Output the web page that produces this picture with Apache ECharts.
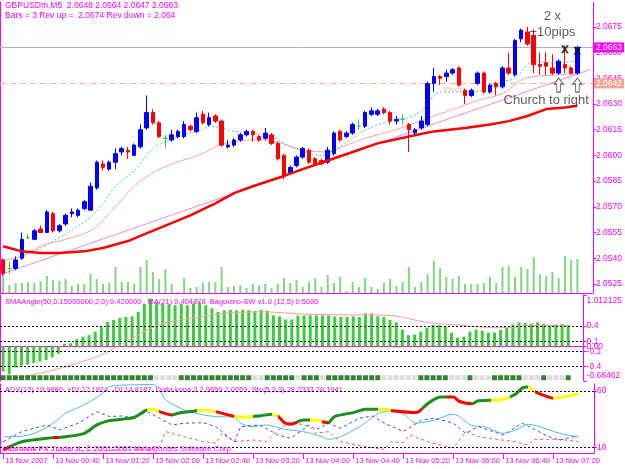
<!DOCTYPE html>
<html><head><meta charset="utf-8">
<script src="https://cdn.jsdelivr.net/npm/echarts@6/dist/echarts.min.js"></script>
<style>html,body{margin:0;padding:0;background:#fff}#c{width:625px;height:469px}</style>
</head><body><div id="c"></div>
<script>
// ---------- DATA ----------
const xTickLabels = ['13 Nov 2007','13 Nov 00:40','13 Nov 01:20','13 Nov 02:00','13 Nov 02:40','13 Nov 03:20','13 Nov 04:00','13 Nov 04:40','13 Nov 05:20','13 Nov 06:00','13 Nov 06:40','13 Nov 07:20'];
const slotCount = 95; // 93 bars + chart shift
const categories = [];
for (let i = 0; i < slotCount; i++) { const m = i * 5; categories.push('13 Nov ' + String(Math.floor(m / 60)).padStart(2, '0') + ':' + String(m % 60).padStart(2, '0')); }

const opens  = [2.0539,2.0534,2.0534,2.0540,2.0552,2.0551,2.0557,2.0555,2.0566,2.0556,2.0560,2.0566,2.0565,2.0569,2.0568,2.0581,2.0595,2.0592,2.0596,2.0602,2.0603,2.0600,2.0605,2.0616,2.0625,2.0619,2.0610,2.0609,2.0611,2.0611,2.0617,2.0614,2.0624,2.0618,2.0623,2.0620,2.0605,2.0606,2.0609,2.0612,2.0614,2.0611,2.0610,2.0612,2.0607,2.0600,2.0590,2.0594,2.0599,2.0603,2.0598,2.0597,2.0596,2.0601,2.0614,2.0611,2.0613,2.0617,2.0617,2.0624,2.0624,2.0627,2.0625,2.0620,2.0621,2.0618,2.0613,2.0616,2.0618,2.0642,2.0646,2.0646,2.0648,2.0651,2.0638,2.0635,2.0642,2.0648,2.0637,2.0642,2.0640,2.0651,2.0647,2.0668,2.0672,2.0670,2.0653,2.0654,2.0651,2.0648,2.0653,2.0651,2.0648];
const highs  = [2.0540,2.0538,2.0541,2.0555,2.0554,2.0557,2.0559,2.0568,2.0567,2.0560,2.0566,2.0569,2.0569,2.0574,2.0584,2.0597,2.0597,2.0597,2.0604,2.0605,2.0605,2.0607,2.0618,2.0635,2.0627,2.0620,2.0612,2.0615,2.0615,2.0620,2.0618,2.0625,2.0626,2.0625,2.0624,2.0621,2.0609,2.0610,2.0613,2.0615,2.0615,2.0612,2.0616,2.0613,2.0608,2.0601,2.0594,2.0600,2.0605,2.0604,2.0599,2.0598,2.0605,2.0614,2.0615,2.0614,2.0619,2.0621,2.0626,2.0628,2.0627,2.0628,2.0626,2.0623,2.0624,2.0619,2.0616,2.0623,2.0643,2.0651,2.0647,2.0650,2.0651,2.0652,2.0639,2.0639,2.0649,2.0649,2.0642,2.0643,2.0652,2.0660,2.0668,2.0674,2.0675,2.0673,2.0660,2.0660,2.0659,2.0656,2.0664,2.0652,2.0664];
const lows   = [2.0530,2.0531,2.0533,2.0539,2.0551,2.0551,2.0555,2.0555,2.0555,2.0555,2.0559,2.0564,2.0564,2.0568,2.0568,2.0580,2.0591,2.0591,2.0592,2.0600,2.0598,2.0600,2.0604,2.0615,2.0618,2.0610,2.0604,2.0608,2.0610,2.0610,2.0614,2.0613,2.0618,2.0617,2.0619,2.0605,2.0604,2.0605,2.0608,2.0611,2.0608,2.0608,2.0609,2.0606,2.0597,2.0586,2.0589,2.0593,2.0598,2.0595,2.0594,2.0594,2.0595,2.0600,2.0608,2.0610,2.0612,2.0615,2.0616,2.0623,2.0623,2.0624,2.0618,2.0618,2.0618,2.0602,2.0612,2.0615,2.0617,2.0637,2.0641,2.0643,2.0647,2.0640,2.0630,2.0634,2.0641,2.0636,2.0636,2.0635,2.0639,2.0647,2.0646,2.0666,2.0664,2.0648,2.0647,2.0647,2.0647,2.0647,2.0648,2.0647,2.0647];
const closes = [2.0531,2.0534,2.0539,2.0551,2.0552,2.0556,2.0555,2.0567,2.0556,2.0559,2.0565,2.0567,2.0568,2.0573,2.0582,2.0596,2.0593,2.0596,2.0601,2.0604,2.0602,2.0606,2.0615,2.0625,2.0619,2.0611,2.0610,2.0612,2.0614,2.0618,2.0615,2.0622,2.0619,2.0622,2.0620,2.0606,2.0606,2.0609,2.0612,2.0614,2.0612,2.0609,2.0613,2.0607,2.0598,2.0588,2.0593,2.0599,2.0604,2.0596,2.0595,2.0595,2.0603,2.0613,2.0609,2.0613,2.0618,2.0617,2.0625,2.0626,2.0626,2.0625,2.0620,2.0621,2.0621,2.0615,2.0615,2.0620,2.0642,2.0646,2.0645,2.0648,2.0650,2.0641,2.0635,2.0638,2.0648,2.0637,2.0641,2.0640,2.0651,2.0648,2.0667,2.0673,2.0665,2.0653,2.0652,2.0652,2.0648,2.0655,2.0651,2.0648,2.0663];
const volumes = [20,8,10,10,11,10,12,17,13,12,14,7,9,9,19,14,9,10,26,11,11,9,26,33,21,14,24,9,1,15,5,6,10,11,11,26,6,7,8,5,9,8,9,5,9,15,10,13,6,11,15,6,18,10,16,2,11,6,15,6,4,10,14,7,11,26,6,11,19,32,25,16,14,17,9,9,9,10,16,10,26,27,16,26,24,36,19,17,21,15,37,33,34];

// moving averages: [bar, price]
const maSlowRed = [[0,2.0547],[3,2.0544],[6,2.0543],[9,2.0543],[13,2.0544],[16,2.0546],[20,2.0550],[22,2.0553],[26,2.0559],[30,2.0565],[34,2.0572],[37,2.0578],[40,2.0582],[45,2.0588],[48,2.0592],[52,2.0597],[56,2.0602],[60,2.0607],[65,2.0611],[69,2.0614],[74,2.0616],[78,2.0618],[81,2.0620],[84,2.0623],[87,2.0627],[90,2.0628],[92,2.0629]];
const maMidSalmon = [[0,2.0539],[3,2.0541],[6,2.0547],[10,2.0551],[14,2.0556],[17,2.0566],[21,2.0582],[24,2.0590],[27,2.0595],[32,2.0601],[34,2.0605],[37,2.0608],[41,2.0609],[44,2.0608],[46,2.0605],[48,2.0603],[52,2.0602],[55,2.0606],[58,2.0610],[63,2.0615],[69,2.0623],[73,2.0628],[76,2.0632],[80,2.0636],[83,2.0644],[85,2.0646],[89,2.0647],[92,2.0648]];
const maFastCyan = [[3,2.0542],[5,2.0544],[8,2.0550],[10,2.0554],[14,2.0564],[16,2.0572],[18,2.0582],[21,2.0591],[24,2.0604],[26,2.0608],[29,2.0612],[32,2.0615],[33,2.0617],[35,2.0616],[37,2.0614],[40,2.0613],[43,2.0611],[45,2.0607],[47,2.0604],[49,2.0601],[51,2.0600],[53,2.0603],[56,2.0610],[58,2.0615],[63,2.0621],[65,2.0622],[67,2.0626],[70,2.0637],[74,2.0637],[77,2.0638],[80,2.0643],[82,2.0645],[85,2.0655],[88,2.0654],[92,2.0655]];
const trendLine = [[0,2.0531],[94,2.0650]];
const currentPrice = 2.0663;
const pivotPrice = 2.0642;
const priceTicks = [2.0525,2.0540,2.0555,2.0570,2.0585,2.0600,2.0615,2.0630,2.0645,2.0660,2.0675];
const crossMarks = [[90,2.0662],[92,2.0661]];
const arrowMarks = [[89,2.0641],[92,2.0641]];
const annotations = [
  {name:'2 x', value:[88,2.0681]},
  {name:'+10pips', value:[88,2.0672]},
  {name:'Church to right', value:[87,2.0632]}
];
const pivotText = {name:'Pivot', value:[72,2.0638]};

// SMAAngle sub-window
const oscHist = [-0.50,-0.55,-0.42,-0.38,-0.36,-0.33,-0.30,-0.27,-0.22,-0.15,0.05,0.06,0.14,0.19,0.22,0.29,0.38,0.48,0.52,0.56,0.58,0.59,0.68,0.84,0.94,0.87,0.84,0.83,0.81,0.84,0.81,0.84,0.87,0.81,0.75,0.68,0.71,0.72,0.71,0.72,0.71,0.70,0.72,0.70,0.61,0.59,0.53,0.53,0.61,0.61,0.61,0.61,0.61,0.61,0.59,0.58,0.58,0.59,0.58,0.65,0.65,0.59,0.58,0.52,0.47,0.33,0.22,0.23,0.29,0.37,0.42,0.42,0.38,0.27,0.17,0.19,0.29,0.33,0.31,0.27,0.27,0.32,0.38,0.43,0.47,0.46,0.45,0.47,0.44,0.40,0.43,0.44,0.42];
const oscMA = [[1,-0.64],[5,-0.56],[10,-0.41],[16,-0.17],[21,0.16],[24,0.35],[27,0.48],[32,0.58],[36,0.65],[42,0.68],[50,0.63],[56,0.62],[63,0.61],[69,0.47],[74,0.42],[80,0.37],[83,0.37],[85,0.41],[90,0.41],[92,0.405]];
const oscLevels = [0.4,0.1,-0.1,-0.4];
const oscMax = 1.012125, oscMin = -0.68462;
const oscTickValues = [1.012125,0.4,0.1,0,-0.1,-0.4,-0.68462];
const oscTickLabels = ['1.012125','0.4','0.1','0.00','-0.1','-0.4','-0.68462'];
const bagovinoState = [1,1,1,1,1,1,1,1,1,1,1,1,1,1,1,1,1,1,1,1,1,1,1,1,1,0,0,0,0,1,1,1,1,1,1,1,1,1,1,1,1,0,0,1,1,1,1,1,0,1,1,1,0,1,1,1,1,1,1,1,1,1,0,0,0,0,0,0,1,1,1,1,1,0,0,0,1,0,0,0,1,1,1,1,1,0,0,0,1,0,0,0,1];
const bagovinoLevel = -0.62;

// ADX sub-window
const dollaLine = [[0,7.6],[3,15.0],[7,18.0],[10,19.4],[13,22.4],[15,29.8],[17,33.6],[19,34.9],[21,36.6],[23,43.1],[24,43.7],[25,41.6],[27,38.7],[28,40.2],[30,41.6],[32,43.1],[34,41.6],[36,38.7],[38,36.6],[41,37.8],[43,39.3],[44,37.2],[45,31.8],[46,30.4],[48,34.2],[50,34.2],[51,32.7],[52,31.8],[53,37.2],[56,40.7],[58,43.7],[61,43.7],[62,42.5],[66,40.7],[68,49.1],[70,54.4],[72,54.4],[73,50.5],[75,48.5],[76,51.1],[80,52.6],[82,57.3],[83,62.4],[84,63.3],[85,59.4],[87,54.9],[88,53.5],[90,54.9],[92,57.3]];
const dollaColorRuns = [[0,'r'],[1,'g'],[8,'r'],[9,'g'],[23,'y'],[25,'r'],[27,'g'],[31,'y'],[34,'r'],[37,'y'],[40,'g'],[43,'y'],[44,'r'],[47,'g'],[49,'y'],[51,'r'],[52,'g'],[60,'y'],[62,'r'],[67,'g'],[71,'r'],[75,'g'],[78,'y'],[81,'g'],[84,'y'],[85,'r'],[88,'y']];
const adxMain = [[0,19.4],[2,19.4],[5,22.4],[8,31.3],[10,40.2],[13,47.6],[16,58.0],[17,63.8],[21,65.3],[24,65.5],[25,60.9],[26,52.0],[29,43.1],[32,38.7],[34,37.2],[37,36.6],[38,31.3],[40,28.3],[42,29.8],[45,26.0],[48,23.9],[51,19.4],[52,17.1],[54,19.4],[57,28.3],[61,41.6],[64,39.6],[66,31.3],[69,34.2],[72,39.3],[75,29.2],[77,28.3],[80,22.4],[82,25.4],[84,30.4],[87,26.0],[89,22.4],[92,19.0]];
const plusDI = [[0,15.0],[3,23.9],[7,29.8],[9,25.4],[12,31.3],[15,41.6],[17,37.2],[19,37.8],[21,35.8],[23,41.6],[25,35.8],[27,29.8],[29,31.3],[32,31.8],[34,28.3],[37,15.0],[38,28.3],[41,29.8],[44,20.9],[46,18.0],[49,29.8],[50,25.4],[52,31.3],[54,26.9],[57,35.8],[59,37.8],[61,31.3],[64,23.9],[67,34.2],[69,35.8],[72,31.3],[74,22.4],[76,28.3],[80,20.9],[83,31.3],[85,26.0],[87,20.0],[89,16.5],[92,20.5]];
const minusDI = [[0,9.1],[1,7.6],[5,8.0],[12,7.0],[18,7.5],[24,8.0],[25,10.5],[26,23.9],[29,19.4],[32,15.0],[34,13.6],[35,22.4],[37,15.0],[40,16.5],[42,15.0],[44,25.4],[46,32.7],[49,28.3],[50,22.4],[52,23.9],[54,15.0],[58,10.5],[61,8.2],[62,15.0],[64,14.1],[65,20.9],[68,15.0],[70,12.0],[72,9.6],[74,23.9],[76,19.4],[79,17.1],[82,15.0],[84,12.0],[85,17.1],[88,17.1],[90,16.5],[92,15.0]];
const adxLevels = [60,10];
const adxTickValues = [60,10];
const adxMin = 5, adxMax = 66;

// ---------- CHART ----------
const MAG = '#ff00ff';
const FONT = 'Liberation Sans';
const candleData = opens.map((o, i) => {
  const d = {value:[o, closes[i], lows[i], highs[i]]};
  if (o === closes[i]) d.itemStyle = {color:'#33cc33', color0:'#33cc33', borderColor:'#33cc33', borderColor0:'#33cc33'};
  return d;
});
const colorMap = {r:'#ff0000', g:'#1a8f1a', y:'#ffff00'};
const pieces = dollaColorRuns.map((r, k) => {
  const p = {gte: r[0], color: colorMap[r[1]]};
  if (k < dollaColorRuns.length - 1) p.lt = dollaColorRuns[k + 1][0];
  return p;
});
const tickShown = (idx) => idx % 8 === 0 && idx / 8 < xTickLabels.length;
const xCommon = (gi, showLabels) => ({
  type:'category', gridIndex:gi, data:categories, boundaryGap:true,
  axisLine:{show:true, lineStyle:{color:MAG}},
  axisTick:{show:showLabels, alignWithLabel:true, length:6, lineStyle:{color:MAG}, interval:tickShown},
  axisLabel:{show:showLabels, color:MAG, fontSize:7.5, fontFamily:FONT, align:'left', margin:4, padding:[0,0,0,2],
    interval:tickShown, showMinLabel:true, showMaxLabel:true, hideOverlap:false,
    formatter:(v, idx) => xTickLabels[idx / 8] || ''},
  splitLine:{show:false}
});
const leftDummy = (gi, mn, mx) => ({type:'value', gridIndex:gi, position:'left', min:mn, max:mx,
  axisLine:{show:true, lineStyle:{color:MAG}}, axisLabel:{show:false}, axisTick:{show:false}, splitLine:{show:false}});

const option = {
  animation:false,
  backgroundColor:'#ffffff',
  textStyle:{fontFamily:FONT},
  grid:[
    {left:0, right:31, top:2, height:291},
    {left:0, right:31, top:295, height:86},
    {left:0, right:31, top:384, height:69}
  ],
  xAxis:[xCommon(0,false), xCommon(1,false), xCommon(2,true)],
  yAxis:[
    {type:'value', gridIndex:0, position:'right', min:2.05197, max:2.06895,
      axisLine:{show:true, lineStyle:{color:MAG}}, splitLine:{show:false},
      axisTick:{show:true, length:3, customValues:priceTicks, lineStyle:{color:MAG}},
      axisLabel:{customValues:priceTicks, formatter:(v) => v.toFixed(4), color:MAG, fontSize:8.5, margin:3}},
    leftDummy(0, 0, 291),
    {type:'value', gridIndex:1, position:'right', min:oscMin, max:oscMax,
      axisLine:{show:true, lineStyle:{color:MAG}}, splitLine:{show:false},
      axisTick:{show:true, length:3, customValues:oscTickValues, lineStyle:{color:MAG}},
      axisLabel:{customValues:oscTickValues, color:MAG, fontSize:8.5, margin:3,
        formatter:(v) => {
          let k = oscTickValues.findIndex(t => Math.abs(t - v) < 1e-6);
          const s = k >= 0 ? oscTickLabels[k] : '';
          if (k === 0) return '{t|' + s + '}';
          if (k === oscTickValues.length - 1) return '{b|' + s + '}';
          return s;
        },
        rich:{t:{padding:[12,0,0,0], color:MAG, fontSize:8.5}, b:{padding:[0,0,10,0], color:MAG, fontSize:8.5}}}},
    leftDummy(1, oscMin, oscMax),
    {type:'value', gridIndex:2, position:'right', min:adxMin, max:adxMax,
      axisLine:{show:true, lineStyle:{color:MAG}}, splitLine:{show:false},
      axisTick:{show:true, length:3, customValues:adxTickValues, lineStyle:{color:MAG}},
      axisLabel:{customValues:adxTickValues, color:MAG, fontSize:8.5, margin:3}},
    leftDummy(2, adxMin, adxMax)
  ],
  visualMap:[{type:'piecewise', show:false, seriesIndex:12, dimension:0, pieces:pieces}],
  series:[
    {type:'candlestick', xAxisIndex:0, yAxisIndex:0, data:candleData, barWidth:4, z:3,
      itemStyle:{color:'#0000ff', color0:'#ff0000', borderColor:'#0000ff', borderColor0:'#ff0000', borderWidth:1}},
    {type:'bar', xAxisIndex:0, yAxisIndex:1, data:volumes, barWidth:2, itemStyle:{color:'#7ed87e'}, z:1},
    {type:'line', xAxisIndex:0, yAxisIndex:0, data:maSlowRed, showSymbol:false, lineStyle:{color:'#ff0000', width:2.5}, z:4,
      markLine:{symbol:'none', silent:true, animation:false, precision:4, z:1, data:[
        {yAxis:currentPrice, lineStyle:{color:'#a8b2d8', type:'solid', width:1},
          label:{show:true, position:'end', distance:1, formatter:currentPrice.toFixed(4), backgroundColor:MAG, color:'#fff', padding:[1,2,0,2], fontSize:8.5}},
        {yAxis:pivotPrice, lineStyle:{color:'#ffb0a0', type:[6,4], width:1},
          label:{show:true, position:'end', distance:1, formatter:pivotPrice.toFixed(4), backgroundColor:'#f4a491', color:'#fff', padding:[1,2,0,2], fontSize:8.5}}
      ]}},
    {type:'line', xAxisIndex:0, yAxisIndex:0, data:maMidSalmon, showSymbol:false, smooth:0.3, lineStyle:{color:'#ffa0a0', width:1}, z:2},
    {type:'line', xAxisIndex:0, yAxisIndex:0, data:maFastCyan, showSymbol:false, smooth:0.3, lineStyle:{color:'#33cccc', width:1, type:[2,2]}, z:2},
    {type:'line', xAxisIndex:0, yAxisIndex:0, data:trendLine, showSymbol:false, lineStyle:{color:'#ee88ee', width:1}, z:2},
    {type:'scatter', xAxisIndex:0, yAxisIndex:0, data:crossMarks, symbol:'path://M0,0L3,0L5,3L7,0L10,0L6.5,5L10,10L7,10L5,7L3,10L0,10L3.5,5Z', symbolSize:8, itemStyle:{color:'#111'}, z:6},
    {type:'scatter', xAxisIndex:0, yAxisIndex:0, data:arrowMarks, symbol:'path://M5,0L10,6L7,6L7,14L3,14L3,6L0,6Z', symbolSize:[9,14], itemStyle:{color:'#fff', borderColor:'#333', borderWidth:1}, z:6},
    {type:'scatter', xAxisIndex:0, yAxisIndex:0, data:annotations, symbolSize:0, z:6,
      label:{show:true, position:'inside', formatter:'{b}', color:'#333', fontSize:13, fontFamily:FONT}},
    {type:'bar', xAxisIndex:1, yAxisIndex:2, data:oscHist, barWidth:3, itemStyle:{color:'#3ccc3c'}, z:2,
      markLine:{symbol:'none', silent:true, precision:4, label:{show:false}, lineStyle:{color:'#000', type:[2,2], width:1},
        data:oscLevels.map(v => ({yAxis:v}))}},
    {type:'line', xAxisIndex:1, yAxisIndex:2, data:oscMA, showSymbol:false, smooth:0.3, lineStyle:{color:'#ff9c9c', width:1}, z:3},
    {type:'scatter', xAxisIndex:1, yAxisIndex:2, symbol:'rect', symbolSize:[5,5], z:3,
      data:bagovinoState.map((s, i) => ({value:[i, bagovinoLevel], itemStyle:{color: s ? '#006400' : '#d4d4d4'}}))},
    {type:'line', xAxisIndex:2, yAxisIndex:4, data:dollaLine, showSymbol:false, smooth:0.3, lineStyle:{width:3}, z:4},
    {type:'line', xAxisIndex:2, yAxisIndex:4, data:adxMain, showSymbol:false, smooth:0.3, lineStyle:{color:'#4cc4c4', width:1}, z:3},
    {type:'line', xAxisIndex:2, yAxisIndex:4, data:plusDI, showSymbol:false, lineStyle:{color:'#4444ff', width:1, type:[3,3]}, z:3},
    {type:'line', xAxisIndex:2, yAxisIndex:4, data:minusDI, showSymbol:false, lineStyle:{color:'#ff5555', width:1, type:[3,3]}, z:3,
      markLine:{symbol:'none', silent:true, precision:4, label:{show:false}, lineStyle:{color:'#000', type:[2,2], width:1},
        data:adxLevels.map(v => ({yAxis:v}))}},
    {type:'scatter', xAxisIndex:0, yAxisIndex:0, data:[pivotText], symbolSize:0, z:2,
      label:{show:true, position:'inside', formatter:'{b}', color:'#f4a491', fontSize:8}}
  ],
  graphic:[
    {type:'text', left:5, top:1, z:100, style:{text:'GBPUSDm,M5  2.0648 2.0664 2.0647 2.0663', fill:MAG, font:'8.5px "Liberation Sans"'}},
    {type:'text', left:5, top:11, z:100, style:{text:'Bars = 3 Rev up =  2.0674 Rev down = 2.064', fill:MAG, font:'8.5px "Liberation Sans"'}},
    {type:'text', left:5, top:298, z:100, style:{text:'SMAAngle(50,0.15000000,2,0) 0.420000   MA(21) 0.404878  Bagovino-SW v1.0 (12,5) 0.5000', fill:MAG, font:'7.5px "Liberation Sans"'}},
    {type:'text', left:5, top:386, z:1, style:{text:'ADX(13) 19.9680  +DI:22.1824  -DI:14.8187  Dolla kona 3 2.0659 2.0659  Sto(5,3,3) 28.2333 28.1941', fill:MAG, font:'7.5px "Liberation Sans"'}},
    {type:'text', left:3, top:445, z:100, style:{text:'Interbank FX Trader 4, \u00a9 2001-2007 MetaQuotes Software Corp.', fill:MAG, font:'8px "Liberation Sans"'}}
  ]
};
const chart = echarts.init(document.getElementById('c'), null, {renderer:'canvas'});
chart.setOption(option);
</script>
</body></html>
